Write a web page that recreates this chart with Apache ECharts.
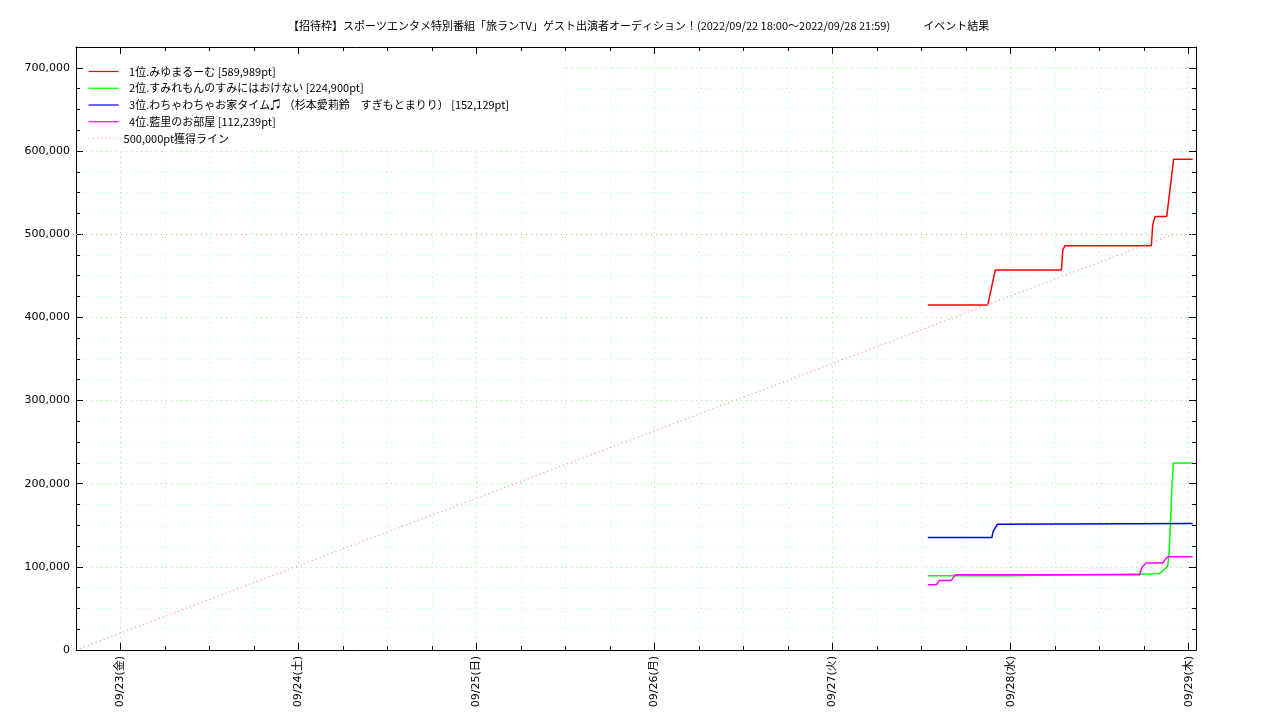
<!DOCTYPE html>
<html><head><meta charset="utf-8">
<script src="https://cdn.jsdelivr.net/npm/echarts@6/dist/echarts.min.js"></script>
<style>html,body{margin:0;padding:0;background:#fff}#c{width:1280px;height:720px}</style>
</head><body><div id="c"></div>
<script>
// ---- data ----
const titleText = '【招待枠】スポーツエンタメ特別番組「旅ランTV」ゲスト出演者オーディション！(2022/09/22 18:00～2022/09/28 21:59)　　　イベント結果';
const seriesNames = [
  '\u20021位.みゆまるーむ [589,989pt]',
  '\u20022位.すみれもんのすみにはおけない [224,900pt]',
  '\u20023位.わちゃわちゃお家タイム♫ （杉本愛莉鈴　すぎもとまりり） [152,129pt]',
  '\u20024位.藍里のお部屋 [112,239pt]',
  '500,000pt獲得ライン'
];
const seriesColors = ['#ff0000', '#00ff00', '#0000ff', '#ff00ff', '#ffa0a0'];
const dayLabels = ['09/23(金)', '09/24(土)', '09/25(日)', '09/26(月)', '09/27(火)', '09/28(水)', '09/29(木)'];
const yTickValues = [0, 100000, 200000, 300000, 400000, 500000, 600000, 700000];
const xStart = '09/22 18:00';
const xEnd = '09/29 00:59';
const yMax = 725000;

const rank1Times = ['09/27 12:50', '09/27 20:55', '09/27 21:55', '09/28 06:50', '09/28 07:02', '09/28 07:21', '09/28 18:58', '09/28 19:09', '09/28 19:28', '09/28 21:02', '09/28 21:30', '09/28 21:58', '09/29 00:32'];
const rank1Values = [414700, 414700, 456900, 456900, 481300, 486100, 486100, 511400, 521100, 521100, 555000, 589989, 589989];

const rank2Times = ['09/27 12:50', '09/27 23:55', '09/28 00:00', '09/28 20:03', '09/28 20:39', '09/28 21:10', '09/28 21:20', '09/28 21:32', '09/28 21:44', '09/28 21:56', '09/29 00:32'];
const rank2Values = [89400, 89400, 91800, 91800, 96500, 101000, 115000, 150000, 195000, 224900, 224900];

const rank3Times = ['09/27 12:50', '09/27 21:28', '09/27 21:37', '09/27 21:49', '09/27 22:13', '09/27 22:29', '09/29 00:32'];
const rank3Values = [135200, 135200, 142000, 145200, 151200, 152129, 152129];

const rank4Times = ['09/27 12:50', '09/27 13:58', '09/27 14:25', '09/27 15:59', '09/27 16:34', '09/28 17:22', '09/28 17:43', '09/28 18:16', '09/28 20:29', '09/28 21:10', '09/29 00:32'];
const rank4Values = [78500, 78500, 83700, 83700, 90600, 90600, 99800, 104600, 104600, 112239, 112239];

const goalTimes = ['09/22 18:00', '09/28 21:59'];
const goalValues = [0, 500000];
const goalLevel = 500000;

// ---- helpers ----
function hrs(s) { // hours relative to 09/23 00:00
  const [md, hm] = s.split(' ');
  const [m, d] = md.split('/').map(Number);
  const [h, mi] = hm.split(':').map(Number);
  return (d - 23) * 24 + h + mi / 60;
}
function pairs(ts, vs) { return ts.map((t, i) => [hrs(t), vs[i]]); }
function fmtNum(v) { return String(Math.round(v)).replace(/\B(?=(\d{3})+(?!\d))/g, ','); }

const xMin = hrs(xStart), xMax = hrs(xEnd);
const dayTicks = dayLabels.map((_, i) => i * 24);
const GREEN = '#80ff80', CYAN = '#a0ffff';
const DASH = [1, 4];
const LAT = 'DejaVu Sans, Noto Sans CJK JP, sans-serif';
const CJK = 'Noto Sans CJK JP, sans-serif';

function xAx(o) {
  return Object.assign({type: 'value', min: xMin, max: xMax, interval: 6, z: 3,
    axisLine: {show: false, onZero: false, lineStyle: {color: '#000', width: 1}},
    axisTick: {show: false}, axisLabel: {show: false}, splitLine: {show: false}}, o);
}
function yAx(o) {
  return Object.assign({type: 'value', min: 0, max: yMax, interval: 25000, z: 3,
    axisLine: {show: false, onZero: false, lineStyle: {color: '#000', width: 1}},
    axisTick: {show: false}, axisLabel: {show: false}, splitLine: {show: false}}, o);
}

const dataSets = [pairs(rank1Times, rank1Values), pairs(rank2Times, rank2Values), pairs(rank3Times, rank3Values), pairs(rank4Times, rank4Values)];

const series = dataSets.map((d, i) => ({
  name: seriesNames[i], type: 'line', data: d, symbol: 'none', showSymbol: false, xAxisIndex: 0, yAxisIndex: 0,
  lineStyle: {color: seriesColors[i], width: 1.5}, itemStyle: {color: seriesColors[i]}, z: 2
}));
series.push({
  name: seriesNames[4], type: 'line', data: pairs(goalTimes, goalValues), symbol: 'none', showSymbol: false, xAxisIndex: 0, yAxisIndex: 0,
  lineStyle: {color: seriesColors[4], width: 1.2, type: [1.2, 3]}, itemStyle: {color: seriesColors[4]}, z: 2,
  markLine: {silent: true, symbol: 'none', label: {show: false}, animation: false,
    lineStyle: {color: '#a0c840', width: 1, type: DASH}, data: [{yAxis: goalLevel}]}
});

const chart = echarts.init(document.getElementById('c'), null, {renderer: 'canvas'});
chart.setOption({
  animation: false,
  backgroundColor: '#fff',
  title: {text: titleText, left: 288, top: 20, padding: 0,
    textStyle: {fontSize: 11, fontWeight: 'normal', fontFamily: CJK, color: '#000'}},
  grid: {left: 76, right: 84, top: 47, bottom: 70, containLabel: false, outerBoundsMode: 'none'},
  legend: {orient: 'vertical', left: 88, top: 65.5, itemWidth: 30, itemHeight: 12, itemGap: 4.75, padding: 0,
    itemStyle: {opacity: 0, borderWidth: 0}, lineStyle: {width: 1.2, color: 'inherit', type: 'inherit', opacity: 1},
    textStyle: {fontSize: 11, fontFamily: CJK, color: '#000', lineHeight: 12}, data: seriesNames, selectedMode: false},
  graphic: [{type: 'rect', shape: {x: 77, y: 48, width: 485, height: 100}, style: {fill: '#fff'}, z: 1, silent: true}],
  xAxis: [
    xAx({position: 'bottom', z: 0, splitLine: {show: true, lineStyle: {color: [CYAN, GREEN, CYAN, CYAN], width: 1, type: DASH}}}),
    xAx({position: 'bottom', axisLine: {show: true, onZero: false, lineStyle: {color: '#000', width: 1}},
      axisTick: {show: true, inside: true, length: 4, lineStyle: {color: '#000'}},
      axisLabel: {show: true, customValues: dayTicks, rotate: 90, margin: 6, fontSize: 11, fontFamily: LAT, color: '#000',
        formatter: v => dayLabels[Math.round(v / 24)] || ''}}),
    xAx({position: 'bottom', axisTick: {show: true, inside: true, length: 7, customValues: dayTicks, lineStyle: {color: '#000'}}}),
    xAx({position: 'top', axisLine: {show: true, onZero: false, lineStyle: {color: '#000', width: 1}},
      axisTick: {show: true, inside: true, length: 4, lineStyle: {color: '#000'}}}),
    xAx({position: 'top', axisTick: {show: true, inside: true, length: 7, customValues: dayTicks, lineStyle: {color: '#000'}}})
  ],
  yAxis: [
    yAx({position: 'left', z: 0, splitLine: {show: true, lineStyle: {color: [GREEN, CYAN, CYAN, CYAN], width: 1, type: DASH}}}),
    yAx({position: 'left', axisLine: {show: true, onZero: false, lineStyle: {color: '#000', width: 1}},
      axisTick: {show: true, inside: true, length: 4, lineStyle: {color: '#000'}}}),
    yAx({position: 'left', axisTick: {show: true, inside: true, length: 7, customValues: yTickValues, lineStyle: {color: '#000'}},
      axisLabel: {show: true, customValues: yTickValues, margin: 6, fontSize: 11, fontFamily: LAT, color: '#000', formatter: v => fmtNum(v)}}),
    yAx({position: 'right', axisLine: {show: true, onZero: false, lineStyle: {color: '#000', width: 1}},
      axisTick: {show: true, inside: true, length: 4, lineStyle: {color: '#000'}}}),
    yAx({position: 'right', axisTick: {show: true, inside: true, length: 7, customValues: yTickValues, lineStyle: {color: '#000'}}})
  ],
  series: series
});
</script></body></html>
